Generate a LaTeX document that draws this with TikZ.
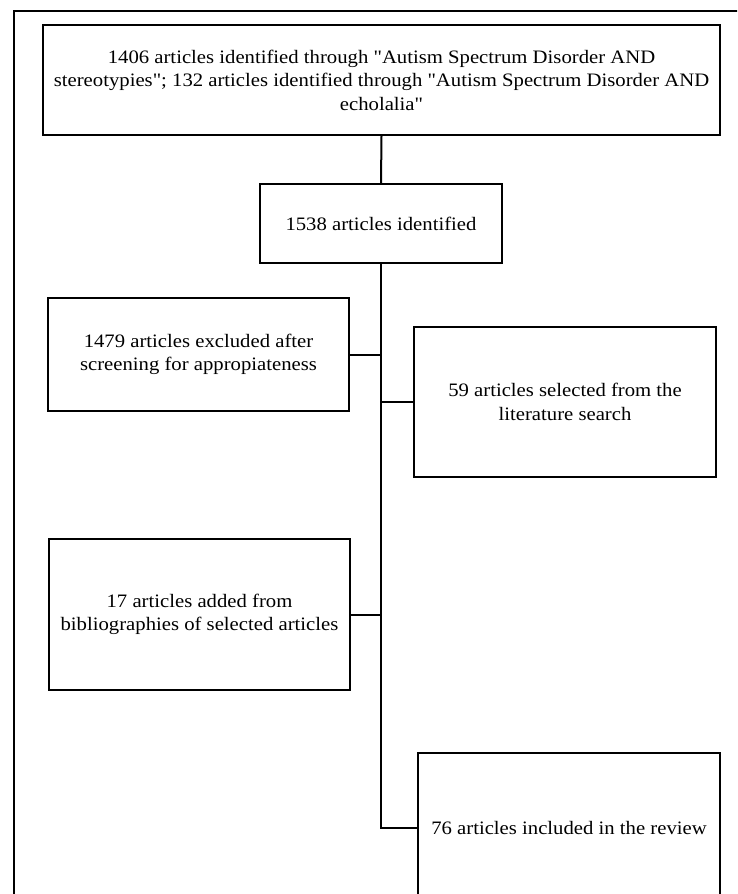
\documentclass[tikz,border=0pt]{standalone}
\usepackage{fontspec}
\setmainfont[FakeStretch=1.09,Ligatures=TeXOff]{Liberation Serif}
\begin{document}
\begin{tikzpicture}[x=1pt,y=-1pt,
  box/.style={draw=black,line width=2pt,rectangle,inner sep=0pt,align=center,
    font=\fontsize{19}{23.5}\selectfont},
  conn/.style={draw=black,line width=2pt},
  frame/.style={draw=black,line width=1.2pt}]
\useasboundingbox (0,0) rectangle (737,894);
\clip (0,0) rectangle (737,894);
\draw[frame] (14,900) -- (14,11) -- (740,11);
\node[box,minimum width=677pt,minimum height=110pt] (top) at (381.5,80)
  {1406 articles identified through "Autism Spectrum Disorder AND\\
   stereotypies"; 132 articles identified through "Autism Spectrum Disorder AND\\
   echolalia"};
\node[box,minimum width=242pt,minimum height=79pt] (mid) at (381,223.5)
  {1538 articles identified};
\node[box,minimum width=301pt,minimum height=113pt] (ex) at (198.5,354.5)
  {1479 articles excluded after\\ screening for appropiateness};
\node[box,minimum width=302pt,minimum height=150pt] (sel) at (565,402)
  {59 articles selected from the\\ literature search};
\node[box,minimum width=301pt,minimum height=151pt] (add) at (199.5,614.5)
  {17 articles added from\\ bibliographies of selected articles};
\node[box,minimum width=302pt,minimum height=150pt] (inc) at (569,828)
  {76 articles included in the review};
\coordinate (turn) at (mid.south |- inc.west);
\draw[conn] (top.south) -- (mid.north);
\draw[conn] (mid.south) -- (turn) -- (inc.west);
\draw[conn] (ex.east) -- (ex.east -| mid.south);
\draw[conn] (sel.west) -- (sel.west -| mid.south);
\draw[conn] (add.east) -- (add.east -| mid.south);
\end{tikzpicture}
\end{document}
